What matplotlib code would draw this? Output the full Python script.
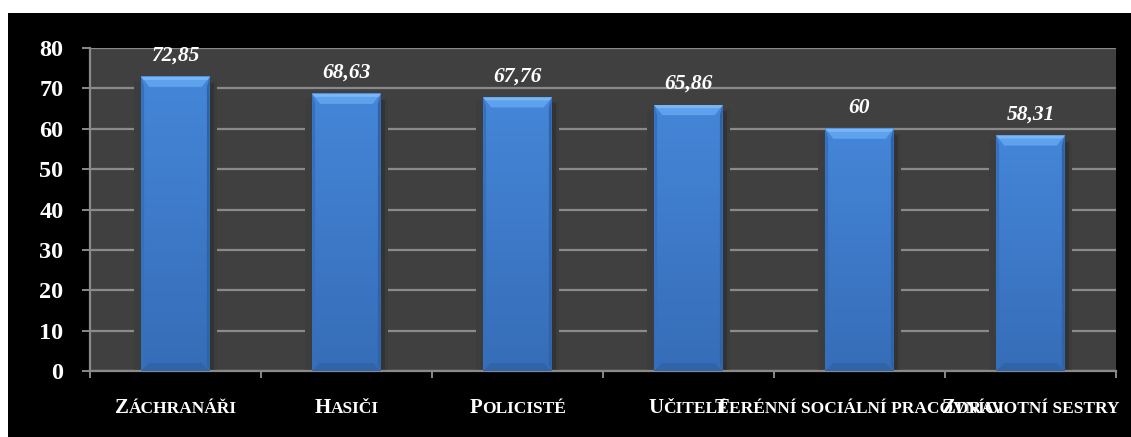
import matplotlib
matplotlib.use("Agg")
import matplotlib.pyplot as plt
from matplotlib.patches import Rectangle, Polygon
import numpy as np

categories = ["Záchranáři", "Hasiči", "Policisté", "Učitelé",
              "Terénní sociální pracovníci", "Zdravotní sestry"]
values = [72.85, 68.63, 67.76, 65.86, 60, 58.31]
value_labels = ["72,85", "68,63", "67,76", "65,86", "60", "58,31"]
yticks = [0, 10, 20, 30, 40, 50, 60, 70, 80]

W, H = 1131, 437
fig = plt.figure(figsize=(W / 100, H / 100), dpi=100, facecolor="white")

# black chart area inside a thin white margin
fig.patches.append(Rectangle((8 / W, 0), 1 - 8 / W, 1 - 13 / H,
                             transform=fig.transFigure, facecolor="black",
                             edgecolor="none", zorder=-10))

ax = fig.add_axes([90 / W, 66 / H, 1026 / W, 323 / H])
ax.set_facecolor("#404040")
ax.set_xlim(-0.5, len(categories) - 0.5)
ax.set_ylim(0, 80)

grid_col = "#8a8a8a"
ax.set_yticks(yticks)
ax.yaxis.grid(True, color=grid_col, linewidth=1.6, zorder=0)
ax.set_axisbelow(True)
for s in ["top", "right"]:
    ax.spines[s].set_visible(False)
for s in ["left", "bottom"]:
    ax.spines[s].set_color(grid_col)
    ax.spines[s].set_linewidth(1.6)

serif = ["Liberation Serif", "DejaVu Serif"]
ax.tick_params(axis="y", colors=grid_col, length=6, width=1.4, pad=13,
               labelcolor="white", labelsize=17.5)
for lab in ax.get_yticklabels():
    lab.set_fontfamily(serif)
    lab.set_fontweight("bold")

ax.set_xticks(np.arange(len(categories) + 1) - 0.5, minor=False)
ax.set_xticklabels([])
ax.tick_params(axis="x", colors=grid_col, length=5, width=1.4, direction="out")

# pixel -> data conversion
def px_dx(p):
    return p * (ax.get_xlim()[1] - ax.get_xlim()[0]) / 1026

def px_dy(p):
    return p * (ax.get_ylim()[1] - ax.get_ylim()[0]) / 323

bw = 0.4
x = np.arange(len(categories))
bars = ax.bar(x, values, width=bw, color="#3e7dcc", edgecolor="none", zorder=3)

# bevelled bar faces
for b in bars:
    x0, y0 = b.get_x(), b.get_y()
    w, h = b.get_width(), b.get_height()
    x1, y1 = x0 + w, y0 + h
    bx, by = px_dx(8), px_dy(10)
    # soft glow/shadow around the bar hiding the gridlines
    ax.add_patch(Rectangle((x0 - px_dx(7), y0), w + px_dx(14), h - px_dy(4),
                           facecolor="#3d3d3d", edgecolor="none", zorder=2))
    ax.add_patch(Rectangle((x1, y0), px_dx(4), h - px_dy(6),
                           facecolor="#333333", edgecolor="none", zorder=2.1))
    # vertical gradient body
    grad = np.linspace(0, 1, 100).reshape(-1, 1)
    top_c = np.array([0x45, 0x86, 0xd8]) / 255
    bot_c = np.array([0x36, 0x6d, 0xb8]) / 255
    img = bot_c + (top_c - bot_c) * grad
    img = np.repeat(img[:, None, :], 2, axis=1).reshape(100, 2, 3)
    ax.imshow(img, extent=[x0, x1, y0, y1], origin="lower", aspect="auto",
              zorder=3.1, interpolation="bilinear")
    # side edges
    ax.add_patch(Polygon([(x0, y0), (x0 + bx * 0.35, y0 + by * 0.6),
                          (x0 + bx * 0.35, y1 - by), (x0, y1)],
                         facecolor="#3470bd", edgecolor="none", zorder=3.2))
    ax.add_patch(Polygon([(x1, y0), (x1 - bx * 0.35, y0 + by * 0.6),
                          (x1 - bx * 0.35, y1 - by), (x1, y1)],
                         facecolor="#2f62a6", edgecolor="none", zorder=3.2))
    # top bevel
    ax.add_patch(Polygon([(x0, y1), (x1, y1), (x1 - bx, y1 - by),
                          (x0 + bx, y1 - by)],
                         facecolor="#5ea2ee", edgecolor="none", zorder=3.3))
    ax.add_patch(Polygon([(x0, y1), (x1, y1), (x1 - bx * 0.3, y1 - by * 0.3),
                          (x0 + bx * 0.3, y1 - by * 0.3)],
                         facecolor="#78b6f6", edgecolor="none", zorder=3.4))
    # bottom bevel
    ax.add_patch(Polygon([(x0, y0), (x1, y0), (x1 - bx, y0 + by * 0.8),
                          (x0 + bx, y0 + by * 0.8)],
                         facecolor="#3163a8", edgecolor="none", zorder=3.3))

# value labels
for xi, v, lab in zip(x, values, value_labels):
    ax.annotate(lab, (xi, v), xytext=(0, 8), textcoords="offset points",
                ha="center", va="bottom", color="white", fontsize=15.5,
                fontfamily=serif, fontweight="bold", fontstyle="italic",
                zorder=5)

# small-caps category labels
fig.canvas.draw()
renderer = fig.canvas.get_renderer()
label_y = 24 / H
big, small = 15, 12.5
for xi, cat in zip(x, categories):
    first, rest = cat[0].upper(), cat[1:].upper()
    t1 = fig.text(0, label_y, first, fontsize=big, fontfamily=serif,
                  fontweight="bold", color="white", va="baseline", ha="left")
    t2 = fig.text(0, label_y, rest, fontsize=small, fontfamily=serif,
                  fontweight="bold", color="white", va="baseline", ha="left")
    w1 = t1.get_window_extent(renderer).width
    w2 = t2.get_window_extent(renderer).width
    cx = ax.transData.transform((xi, 0))[0]
    left = cx - (w1 + w2) / 2
    t1.set_x(left / W)
    t2.set_x((left + w1) / W)

fig.savefig("out.png", dpi=100, facecolor=fig.get_facecolor())
